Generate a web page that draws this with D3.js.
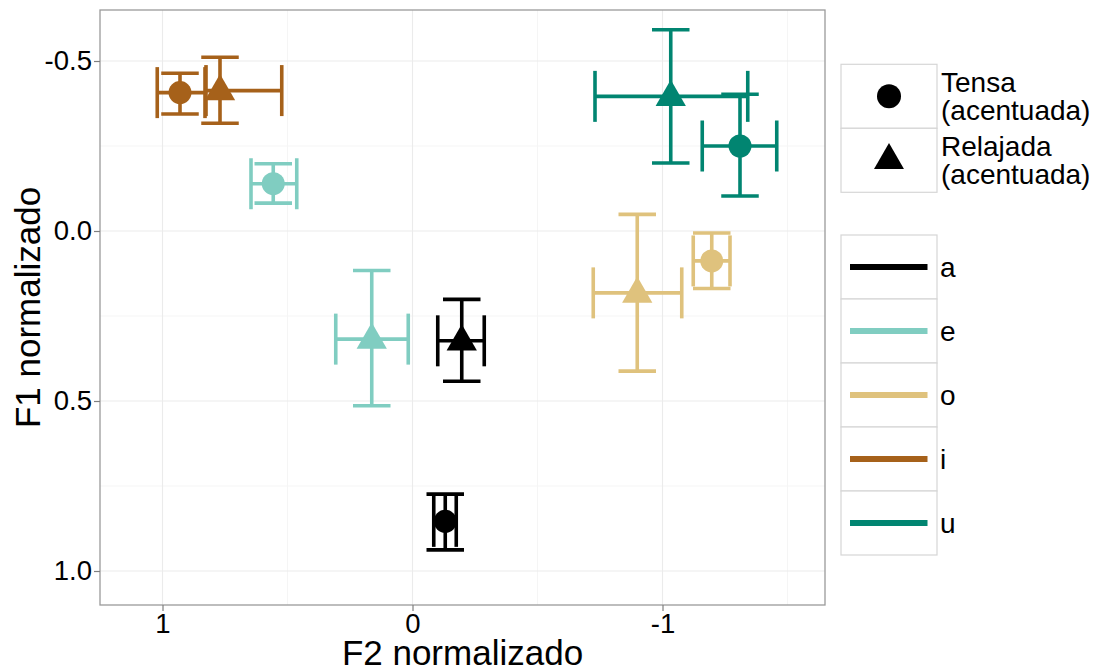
<!DOCTYPE html>
<html>
<head>
<meta charset="utf-8">
<script src="https://cdn.jsdelivr.net/npm/d3@7"></script>
<style>
  html, body { margin: 0; padding: 0; background: #ffffff; }
  svg { display: block; font-family: "Liberation Sans", Arial, Helvetica, sans-serif; }
</style>
</head>
<body>
<svg id="chart" width="1095" height="666"></svg>
<script>
// ---- data ----
const vowels = ["a", "e", "o", "i", "u"];
const vowelColors = ["#000000", "#80cdc1", "#dfc27d", "#a6611a", "#018571"];
const typeLabels = [["Tensa", "(acentuada)"], ["Relajada", "(acentuada)"]];
const typeShapes = ["circle", "triangle"];

const pointVowel = ["a", "a", "e", "e", "o", "o", "i", "i", "u", "u"];
const pointType  = [0, 1, 0, 1, 0, 1, 0, 1, 0, 1];
const f2Mean = [-0.131, -0.197, 0.557, 0.163, -1.197, -0.899, 0.930, 0.770, -1.310, -1.033];
const f1Mean = [0.854, 0.323, -0.139, 0.318, 0.088, 0.182, -0.407, -0.413, -0.250, -0.396];
const f1Low  = [0.774, 0.201, -0.198, 0.116, 0.006, -0.049, -0.464, -0.511, -0.402, -0.592];
const f1High = [0.938, 0.442, -0.082, 0.514, 0.169, 0.412, -0.344, -0.317, -0.103, -0.200];
const f2Low  = [-0.085, -0.101, 0.646, 0.307, -1.123, -0.723, 1.021, 0.826, -1.159, -0.730];
const f2High = [-0.175, -0.287, 0.463, 0.017, -1.270, -1.077, 0.830, 0.523, -1.457, -1.341];

const xTicks = [1, 0, -1];
const xTickLabels = ["1", "0", "-1"];
const xMinor = [0.5, -0.5, -1.5];
const yTicks = [-0.5, 0.0, 0.5, 1.0];
const yTickLabels = ["-0.5", "0.0", "0.5", "1.0"];
const yMinor = [-0.25, 0.25, 0.75];

const xTitle = "F2 normalizado";
const yTitle = "F1 normalizado";
const capSize = 0.15; // data units

// ---- layout ----
const svg = d3.select("#chart");
const panel = { left: 100, top: 10, right: 825, bottom: 605 };
const x = d3.scaleLinear().domain([1.25, -1.65]).range([panel.left, panel.right]);
const y = d3.scaleLinear().domain([-0.65, 1.10]).range([panel.top, panel.bottom]);
const color = d3.scaleOrdinal().domain(vowels).range(vowelColors);

const rows = pointVowel.map((v, i) => ({
  v, t: pointType[i], f2: f2Mean[i], f1: f1Mean[i],
  f1lo: f1Low[i], f1hi: f1High[i], f2lo: f2Low[i], f2hi: f2High[i]
}));

// panel background
svg.append("rect").attr("x", panel.left).attr("y", panel.top)
  .attr("width", panel.right - panel.left).attr("height", panel.bottom - panel.top)
  .attr("fill", "#ffffff");

// grid
const grid = svg.append("g");
grid.selectAll(".xminor").data(xMinor).join("line")
  .attr("x1", d => x(d)).attr("x2", d => x(d)).attr("y1", panel.top).attr("y2", panel.bottom)
  .attr("stroke", "#f5f5f5").attr("stroke-width", 1);
grid.selectAll(".yminor").data(yMinor).join("line")
  .attr("y1", d => y(d)).attr("y2", d => y(d)).attr("x1", panel.left).attr("x2", panel.right)
  .attr("stroke", "#f5f5f5").attr("stroke-width", 1);
grid.selectAll(".xmajor").data(xTicks).join("line")
  .attr("x1", d => x(d)).attr("x2", d => x(d)).attr("y1", panel.top).attr("y2", panel.bottom)
  .attr("stroke", "#ebebeb").attr("stroke-width", 1.1);
grid.selectAll(".ymajor").data(yTicks).join("line")
  .attr("y1", d => y(d)).attr("y2", d => y(d)).attr("x1", panel.left).attr("x2", panel.right)
  .attr("stroke", "#ebebeb").attr("stroke-width", 1.1);

// error bars
const lw = 3.6;
const eb = svg.append("g").attr("stroke-linecap", "butt").attr("fill", "none");
const capX = Math.abs(x(0) - x(capSize)) / 2;
const capY = Math.abs(y(capSize) - y(0)) / 2;
rows.forEach(r => {
  const c = color(r.v);
  const g = eb.append("g").attr("stroke", c).attr("stroke-width", lw);
  // vertical (F1) error bar
  g.append("line").attr("x1", x(r.f2)).attr("x2", x(r.f2)).attr("y1", y(r.f1lo)).attr("y2", y(r.f1hi));
  [r.f1lo, r.f1hi].forEach(v => g.append("line")
    .attr("x1", x(r.f2) - capX).attr("x2", x(r.f2) + capX).attr("y1", y(v)).attr("y2", y(v)));
});
rows.forEach(r => {
  const c = color(r.v);
  const g = eb.append("g").attr("stroke", c).attr("stroke-width", lw);
  // horizontal (F2) error bar
  g.append("line").attr("x1", x(r.f2lo)).attr("x2", x(r.f2hi)).attr("y1", y(r.f1)).attr("y2", y(r.f1));
  [r.f2lo, r.f2hi].forEach(v => g.append("line")
    .attr("x1", x(v)).attr("x2", x(v)).attr("y1", y(r.f1) - capY).attr("y2", y(r.f1) + capY));
});

// points
const circR = 11.5, triR = 17.5;
function trianglePath(cx, cy, r) {
  const xc = r * Math.sqrt(3) / 2;
  return `M${cx},${cy - r}L${cx + xc},${cy + r / 2}L${cx - xc},${cy + r / 2}Z`;
}
const pts = svg.append("g");
rows.forEach(r => {
  if (typeShapes[r.t] === "circle") {
    pts.append("circle").attr("cx", x(r.f2)).attr("cy", y(r.f1)).attr("r", circR).attr("fill", color(r.v));
  } else {
    pts.append("path").attr("d", trianglePath(x(r.f2), y(r.f1) + 1, triR)).attr("fill", color(r.v));
  }
});

// panel border
svg.append("rect").attr("x", panel.left).attr("y", panel.top)
  .attr("width", panel.right - panel.left).attr("height", panel.bottom - panel.top)
  .attr("fill", "none").attr("stroke", "#9a9a9a").attr("stroke-width", 1.3);

// axes
const fs = 27.5;
const xAxis = d3.axisBottom(x).tickValues(xTicks).tickFormat((d, i) => xTickLabels[i]).tickSize(6).tickPadding(2);
const gx = svg.append("g").attr("transform", `translate(0,${panel.bottom})`).call(xAxis);
const yAxis = d3.axisLeft(y).tickValues(yTicks).tickFormat((d, i) => yTickLabels[i]).tickSize(6).tickPadding(2);
const gy = svg.append("g").attr("transform", `translate(${panel.left},0)`).call(yAxis);
[gx, gy].forEach(g => {
  g.select(".domain").remove();
  g.selectAll(".tick line").attr("stroke", "#7f7f7f").attr("stroke-width", 1.2);
  g.selectAll(".tick text").attr("fill", "#000").style("font-size", fs + "px")
    .style("font-family", '"Liberation Sans", Arial, sans-serif');
});

// axis titles
svg.append("text").attr("x", (panel.left + panel.right) / 2).attr("y", 665)
  .attr("text-anchor", "middle").style("font-size", "35px").attr("fill", "#000").text(xTitle);
svg.append("text").attr("transform", `translate(40,${(panel.top + panel.bottom) / 2}) rotate(-90)`)
  .attr("text-anchor", "middle").style("font-size", "35px").attr("fill", "#000").text(yTitle);

// legend: shapes
const keyX = 841, keyW = 96, keyH = 64;
const lg1 = svg.append("g");
typeShapes.forEach((s, i) => {
  const top = 64.3 + i * keyH;
  lg1.append("rect").attr("x", keyX).attr("y", top).attr("width", keyW).attr("height", keyH)
    .attr("fill", "#fff").attr("stroke", "#d6d6d6").attr("stroke-width", 1.2);
  const cx = keyX + keyW / 2, cy = top + keyH / 2;
  if (s === "circle") lg1.append("circle").attr("cx", cx).attr("cy", cy).attr("r", 12).attr("fill", "#000");
  else lg1.append("path").attr("d", trianglePath(cx, cy, 17.3)).attr("fill", "#000");
  const t = lg1.append("text").attr("x", 941).attr("y", cy - 4).style("font-size", "28px").attr("fill", "#000");
  t.append("tspan").attr("x", 941).attr("dy", 0).text(typeLabels[i][0]);
  t.append("tspan").attr("x", 941).attr("dy", 28).text(typeLabels[i][1]);
});

// legend: vowels
const lg2 = svg.append("g");
vowels.forEach((v, i) => {
  const top = 235 + i * keyH;
  lg2.append("rect").attr("x", keyX).attr("y", top).attr("width", keyW).attr("height", keyH)
    .attr("fill", "#fff").attr("stroke", "#d6d6d6").attr("stroke-width", 1.2);
  const cy = top + keyH / 2;
  lg2.append("line").attr("x1", 850).attr("x2", 927.5).attr("y1", cy).attr("y2", cy)
    .attr("stroke", color(v)).attr("stroke-width", 6);
  lg2.append("text").attr("x", 940).attr("y", cy + 10).style("font-size", "28px").attr("fill", "#000").text(v);
});
</script>
</body>
</html>
